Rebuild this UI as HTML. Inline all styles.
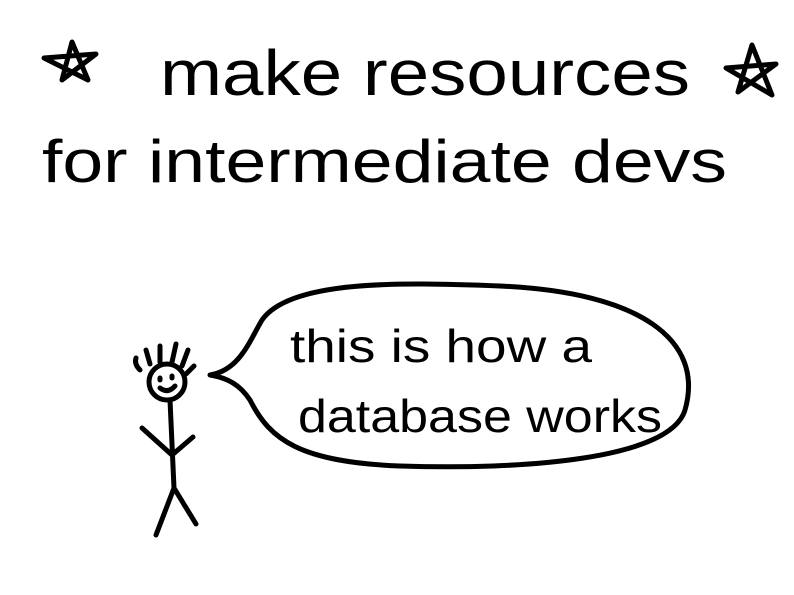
<!DOCTYPE html>
<html><head><meta charset="utf-8"><style>
html,body{margin:0;padding:0;background:#fff;width:794px;height:595px;overflow:hidden}
text{font-family:"Liberation Sans",sans-serif;fill:#000}
</style></head><body>
<svg width="794" height="595" viewBox="0 0 794 595">
<rect width="794" height="595" fill="#fff"/>
<g fill="none" stroke="#000" stroke-width="5" stroke-linecap="round" stroke-linejoin="round">
<path d="M72 42 L62 80 L96 54 L44 58 L88 80 Z"/>
<path d="M752 45 L738 92 L776 64 L726 68 L772 95 Z"/>
<path d="M210 375 C240 370 250 340 262 320 C290 280 400 282 500 286 C640 292 705 340 685 410 C670 460 520 470 400 466 C300 462 270 440 250 400 C240 385 228 378 210 375"/>
<g>
<circle cx="167" cy="382" r="18"/>
<path d="M160 378 l0 2 M172 376 l0 2 M160 388 q8 6 15 -2"/>
<path d="M140 370 q-6 -6 -4 -12 M150 364 l-4 -14 M160 362 l0 -16 M172 362 l4 -18 M182 366 l6 -16 M186 374 l8 -8"/>
<path d="M170 400 L174 488 M142 428 L172 455 L193 437 M174 488 L156 535 M174 488 L196 524"/>
</g>
</g>
<text x="160" y="95" font-size="64" textLength="530" lengthAdjust="spacingAndGlyphs">make resources</text>
<text x="42" y="182" font-size="60" textLength="685" lengthAdjust="spacingAndGlyphs">for intermediate devs</text>
<text x="290" y="362" font-size="46" textLength="302" lengthAdjust="spacingAndGlyphs">this is how a</text>
<text x="298" y="432" font-size="46" textLength="364" lengthAdjust="spacingAndGlyphs">database works</text>
</svg>
</body></html>
